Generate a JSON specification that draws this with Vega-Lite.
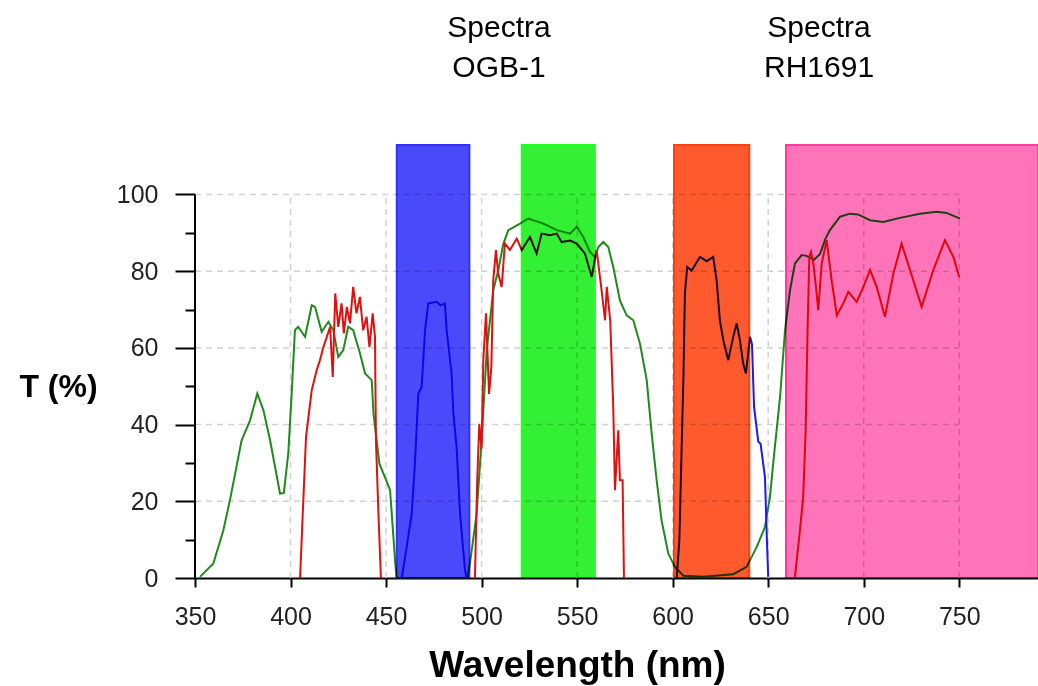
{
  "$schema": "https://vega.github.io/schema/vega-lite/v6.json",
  "width": 843,
  "height": 433,
  "autosize": {"type": "none"},
  "padding": {"left": 195, "top": 145, "right": 0, "bottom": 108},
  "background": "white",
  "config": {"view": {"stroke": null}},
  "datasets": {
    "spectra": [
      {"s":"green","part":"g","wl":352.6,"t":0.3},{"s":"green","part":"g","wl":359.6,"t":3.8},{"s":"green","part":"g","wl":364.8,"t":12.4},{"s":"green","part":"g","wl":368.3,"t":20.3},{"s":"green","part":"g","wl":374.4,"t":35.9},{"s":"green","part":"g","wl":378.8,"t":41.1},{"s":"green","part":"g","wl":382.6,"t":48.1},{"s":"green","part":"g","wl":385.8,"t":43.7},{"s":"green","part":"g","wl":389.3,"t":35.9},{"s":"green","part":"g","wl":394.5,"t":22.0},{"s":"green","part":"g","wl":396.5,"t":22.2},{"s":"green","part":"g","wl":398.8,"t":32.4},{"s":"green","part":"g","wl":400.6,"t":48.1},{"s":"green","part":"g","wl":402.3,"t":64.6},{"s":"green","part":"g","wl":404.0,"t":65.5},{"s":"green","part":"g","wl":407.6,"t":62.9},{"s":"green","part":"g","wl":411.1,"t":71.1},{"s":"green","part":"g","wl":412.8,"t":70.7},{"s":"green","part":"g","wl":416.3,"t":64.2},{"s":"green","part":"g","wl":419.8,"t":66.8},{"s":"green","part":"g","wl":422.4,"t":64.6},{"s":"green","part":"g","wl":425.0,"t":57.6},{"s":"green","part":"g","wl":427.6,"t":59.4},{"s":"green","part":"g","wl":430.2,"t":65.5},{"s":"green","part":"g","wl":432.8,"t":64.6},{"s":"green","part":"g","wl":436.4,"t":58.5},{"s":"green","part":"g","wl":439.0,"t":53.3},{"s":"green","part":"g","wl":442.5,"t":51.6},{"s":"green","part":"g","wl":443.4,"t":42.9},{"s":"green","part":"g","wl":446.5,"t":29.8},{"s":"green","part":"g","wl":449.4,"t":26.3},{"s":"green","part":"g","wl":452.1,"t":22.9},{"s":"green","part":"g","wl":454.7,"t":4.6},{"s":"green","part":"g","wl":455.5,"t":0},{"s":"green","part":"g","wl":492.5,"t":0},{"s":"green","part":"g","wl":493.9,"t":3.8},{"s":"green","part":"g","wl":497.4,"t":16.8},{"s":"green","part":"g","wl":500.0,"t":35.9},{"s":"green","part":"g","wl":502.7,"t":59.4},{"s":"green","part":"g","wl":506.1,"t":75.0},{"s":"green","part":"g","wl":508.7,"t":80.2},{"s":"green","part":"g","wl":511.4,"t":87.2},{"s":"green","part":"g","wl":514.0,"t":90.7},{"s":"green","part":"g","wl":520.1,"t":92.4},{"s":"green","part":"g","wl":524.4,"t":93.7},{"s":"green","part":"g","wl":532.3,"t":92.4},{"s":"green","part":"g","wl":539.3,"t":90.7},{"s":"green","part":"g","wl":546.3,"t":89.8},{"s":"green","part":"g","wl":549.8,"t":91.6},{"s":"green","part":"g","wl":553.2,"t":88.9},{"s":"green","part":"g","wl":556.7,"t":85.0},{"s":"green","part":"g","wl":559.3,"t":83.7},{"s":"green","part":"g","wl":561.1,"t":86.3},{"s":"green","part":"g","wl":563.7,"t":87.6},{"s":"green","part":"g","wl":566.3,"t":86.3},{"s":"green","part":"g","wl":568.9,"t":81.1},{"s":"green","part":"g","wl":572.4,"t":72.4},{"s":"green","part":"g","wl":575.9,"t":68.5},{"s":"green","part":"g","wl":579.4,"t":67.2},{"s":"green","part":"g","wl":582.9,"t":61.1},{"s":"green","part":"g","wl":586.4,"t":51.6},{"s":"green","part":"g","wl":589.0,"t":37.7},{"s":"green","part":"g","wl":591.6,"t":25.5},{"s":"green","part":"g","wl":594.2,"t":15.0},{"s":"green","part":"g","wl":597.7,"t":6.4},{"s":"green","part":"g","wl":601.2,"t":2.9},{"s":"green","part":"g","wl":605.6,"t":0.6},{"s":"green","part":"g","wl":616.0,"t":0.3},{"s":"green","part":"g","wl":631.7,"t":1.0},{"s":"green","part":"g","wl":638.7,"t":2.9},{"s":"green","part":"g","wl":644.0,"t":8.1},{"s":"green","part":"g","wl":648.3,"t":13.3},{"s":"green","part":"g","wl":650.9,"t":21.1},{"s":"green","part":"g","wl":652.6,"t":29.8},{"s":"green","part":"g","wl":656.2,"t":47.2},{"s":"green","part":"g","wl":658.8,"t":64.6},{"s":"green","part":"g","wl":661.4,"t":75.0},{"s":"green","part":"g","wl":664.0,"t":82.0},{"s":"green","part":"g","wl":667.5,"t":84.2},{"s":"green","part":"g","wl":670.0,"t":84.0},{"s":"green","part":"g","wl":674.0,"t":83.0},{"s":"green","part":"g","wl":677.1,"t":84.5},{"s":"green","part":"g","wl":680.0,"t":88.5},{"s":"green","part":"g","wl":682.3,"t":90.7},{"s":"green","part":"g","wl":687.6,"t":94.2},{"s":"green","part":"g","wl":692.8,"t":95.0},{"s":"green","part":"g","wl":697.0,"t":94.8},{"s":"green","part":"g","wl":703.3,"t":93.3},{"s":"green","part":"g","wl":710.2,"t":92.8},{"s":"green","part":"g","wl":719.0,"t":93.9},{"s":"green","part":"g","wl":729.4,"t":95.0},{"s":"green","part":"g","wl":738.2,"t":95.5},{"s":"green","part":"g","wl":743.4,"t":95.2},{"s":"green","part":"g","wl":750.4,"t":93.7},
      {"s":"red","part":"r1","wl":405.0,"t":0},{"s":"red","part":"r1","wl":406.4,"t":16.8},{"s":"red","part":"r1","wl":408.1,"t":36.8},{"s":"red","part":"r1","wl":411.1,"t":49.0},{"s":"red","part":"r1","wl":413.7,"t":54.2},{"s":"red","part":"r1","wl":415.4,"t":56.8},{"s":"red","part":"r1","wl":417.2,"t":60.2},{"s":"red","part":"r1","wl":419.0,"t":62.9},{"s":"red","part":"r1","wl":420.7,"t":65.5},{"s":"red","part":"r1","wl":422.1,"t":52.4},{"s":"red","part":"r1","wl":423.4,"t":74.2},{"s":"red","part":"r1","wl":425.0,"t":65.5},{"s":"red","part":"r1","wl":426.7,"t":71.6},{"s":"red","part":"r1","wl":427.9,"t":63.8},{"s":"red","part":"r1","wl":429.5,"t":70.7},{"s":"red","part":"r1","wl":431.1,"t":66.4},{"s":"red","part":"r1","wl":432.8,"t":75.9},{"s":"red","part":"r1","wl":434.5,"t":69.0},{"s":"red","part":"r1","wl":436.3,"t":73.3},{"s":"red","part":"r1","wl":438.0,"t":64.6},{"s":"red","part":"r1","wl":439.8,"t":68.1},{"s":"red","part":"r1","wl":441.3,"t":60.2},{"s":"red","part":"r1","wl":443.0,"t":69.0},{"s":"red","part":"r1","wl":444.2,"t":62.9},{"s":"red","part":"r1","wl":444.7,"t":35.9},{"s":"red","part":"r1","wl":446.0,"t":16.8},{"s":"red","part":"r1","wl":447.3,"t":0},
      {"s":"red","part":"r2","wl":496.5,"t":0},{"s":"red","part":"r2","wl":497.7,"t":25.5},{"s":"red","part":"r2","wl":498.8,"t":40.2},{"s":"red","part":"r2","wl":500.0,"t":33.7},{"s":"red","part":"r2","wl":500.9,"t":56.8},{"s":"red","part":"r2","wl":502.3,"t":69.0},{"s":"red","part":"r2","wl":503.9,"t":48.0},{"s":"red","part":"r2","wl":505.1,"t":55.0},{"s":"red","part":"r2","wl":506.1,"t":77.6},{"s":"red","part":"r2","wl":507.5,"t":85.5},{"s":"red","part":"r2","wl":508.7,"t":79.3},{"s":"red","part":"r2","wl":510.5,"t":75.9},{"s":"red","part":"r2","wl":512.2,"t":87.2},{"s":"red","part":"r2","wl":514.8,"t":85.5},{"s":"red","part":"r2","wl":518.4,"t":88.5},{"s":"red","part":"r2","wl":521.0,"t":85.5},{"s":"red","part":"r2","wl":525.3,"t":88.9},{"s":"red","part":"r2","wl":528.8,"t":84.6},{"s":"red","part":"r2","wl":531.4,"t":89.8},{"s":"red","part":"r2","wl":535.8,"t":89.4},{"s":"red","part":"r2","wl":539.3,"t":89.8},{"s":"red","part":"r2","wl":541.9,"t":87.6},{"s":"red","part":"r2","wl":546.3,"t":88.0},{"s":"red","part":"r2","wl":549.8,"t":87.2},{"s":"red","part":"r2","wl":554.1,"t":84.6},{"s":"red","part":"r2","wl":557.6,"t":78.5},{"s":"red","part":"r2","wl":560.2,"t":85.5},{"s":"red","part":"r2","wl":562.8,"t":75.0},{"s":"red","part":"r2","wl":564.6,"t":67.2},{"s":"red","part":"r2","wl":565.5,"t":75.9},{"s":"red","part":"r2","wl":567.3,"t":67.2},{"s":"red","part":"r2","wl":568.9,"t":44.6},{"s":"red","part":"r2","wl":569.8,"t":22.9},{"s":"red","part":"r2","wl":571.5,"t":38.5},{"s":"red","part":"r2","wl":572.4,"t":25.5},{"s":"red","part":"r2","wl":573.8,"t":25.5},{"s":"red","part":"r2","wl":574.5,"t":0},
      {"s":"red","part":"r3","wl":664.0,"t":0.3},{"s":"red","part":"r3","wl":666.6,"t":12.4},{"s":"red","part":"r3","wl":668.3,"t":21.1},{"s":"red","part":"r3","wl":669.6,"t":38.5},{"s":"red","part":"r3","wl":670.6,"t":64.6},{"s":"red","part":"r3","wl":671.5,"t":83.7},{"s":"red","part":"r3","wl":672.4,"t":85.0},{"s":"red","part":"r3","wl":673.6,"t":82.0},{"s":"red","part":"r3","wl":675.0,"t":75.9},{"s":"red","part":"r3","wl":676.2,"t":69.8},{"s":"red","part":"r3","wl":678.0,"t":82.0},{"s":"red","part":"r3","wl":680.6,"t":88.1},{"s":"red","part":"r3","wl":683.2,"t":77.6},{"s":"red","part":"r3","wl":685.9,"t":68.5},{"s":"red","part":"r3","wl":689.3,"t":71.6},{"s":"red","part":"r3","wl":691.9,"t":74.6},{"s":"red","part":"r3","wl":696.3,"t":72.0},{"s":"red","part":"r3","wl":699.8,"t":75.9},{"s":"red","part":"r3","wl":703.3,"t":80.3},{"s":"red","part":"r3","wl":706.8,"t":75.9},{"s":"red","part":"r3","wl":711.1,"t":68.1},{"s":"red","part":"r3","wl":715.5,"t":79.4},{"s":"red","part":"r3","wl":719.8,"t":87.2},{"s":"red","part":"r3","wl":724.2,"t":80.3},{"s":"red","part":"r3","wl":730.3,"t":70.7},{"s":"red","part":"r3","wl":736.4,"t":80.3},{"s":"red","part":"r3","wl":742.5,"t":88.1},{"s":"red","part":"r3","wl":746.9,"t":83.7},{"s":"red","part":"r3","wl":750.0,"t":78.5},
      {"s":"blue","part":"b1","wl":458.2,"t":0},{"s":"blue","part":"b1","wl":460.8,"t":8.1},{"s":"blue","part":"b1","wl":463.4,"t":16.8},{"s":"blue","part":"b1","wl":465.1,"t":29.8},{"s":"blue","part":"b1","wl":466.9,"t":48.1},{"s":"blue","part":"b1","wl":468.6,"t":49.8},{"s":"blue","part":"b1","wl":470.4,"t":64.6},{"s":"blue","part":"b1","wl":472.1,"t":71.6},{"s":"blue","part":"b1","wl":476.5,"t":72.0},{"s":"blue","part":"b1","wl":478.5,"t":71.1},{"s":"blue","part":"b1","wl":480.8,"t":71.6},{"s":"blue","part":"b1","wl":481.7,"t":64.6},{"s":"blue","part":"b1","wl":484.3,"t":53.3},{"s":"blue","part":"b1","wl":485.2,"t":42.9},{"s":"blue","part":"b1","wl":486.9,"t":34.2},{"s":"blue","part":"b1","wl":488.7,"t":16.8},{"s":"blue","part":"b1","wl":491.3,"t":2.0},{"s":"blue","part":"b1","wl":492.2,"t":0},
      {"s":"blue","part":"b2","wl":602.1,"t":0},{"s":"blue","part":"b2","wl":603.5,"t":9.8},{"s":"blue","part":"b2","wl":604.7,"t":34.2},{"s":"blue","part":"b2","wl":605.6,"t":51.6},{"s":"blue","part":"b2","wl":606.4,"t":74.2},{"s":"blue","part":"b2","wl":607.6,"t":81.1},{"s":"blue","part":"b2","wl":609.9,"t":80.2},{"s":"blue","part":"b2","wl":614.3,"t":83.7},{"s":"blue","part":"b2","wl":617.8,"t":82.6},{"s":"blue","part":"b2","wl":621.2,"t":83.7},{"s":"blue","part":"b2","wl":623.0,"t":77.6},{"s":"blue","part":"b2","wl":624.7,"t":67.2},{"s":"blue","part":"b2","wl":626.5,"t":62.0},{"s":"blue","part":"b2","wl":629.1,"t":56.8},{"s":"blue","part":"b2","wl":631.7,"t":62.9},{"s":"blue","part":"b2","wl":633.5,"t":66.4},{"s":"blue","part":"b2","wl":635.2,"t":62.0},{"s":"blue","part":"b2","wl":636.9,"t":55.9},{"s":"blue","part":"b2","wl":638.3,"t":53.3},{"s":"blue","part":"b2","wl":640.5,"t":62.9},{"s":"blue","part":"b2","wl":641.5,"t":61.0},{"s":"blue","part":"b2","wl":642.6,"t":44.6},{"s":"blue","part":"b2","wl":644.8,"t":35.5},{"s":"blue","part":"b2","wl":646.0,"t":35.0},{"s":"blue","part":"b2","wl":648.3,"t":26.3},{"s":"blue","part":"b2","wl":649.2,"t":11.6},{"s":"blue","part":"b2","wl":650.0,"t":0.3}
    ],
    "bands": [
      {"band":"blue","from":455.6,"to":493.6},
      {"band":"green","from":521.0,"to":559.3},
      {"band":"orange","from":600.7,"to":640.1},
      {"band":"pink","from":659.3,"to":791.2}
    ],
    "hgrid": [{"t":20},{"t":40},{"t":60},{"t":80},{"t":100}],
    "vgrid": [{"wl":400},{"wl":450},{"wl":500},{"wl":550},{"wl":600},{"wl":650},{"wl":700},{"wl":750}],
    "labels": [
      {"label":"Spectra\nOGB-1","wl":509.1,"t":141.1},
      {"label":"Spectra\nRH1691","wl":676.6,"t":141.1}
    ]
  },
  "layer": [
    {
      "data": {"name": "hgrid"},
      "mark": {"type": "rule", "color": "#d2d2d2", "strokeWidth": 1.5, "strokeDash": [6, 5]},
      "encoding": {
        "y": {"field": "t", "type": "quantitative", "scale": {"domain": [0, 112.9], "nice": false}},
        "x": {"datum": 350, "type": "quantitative", "scale": {"domain": [350, 791.2], "nice": false}},
        "x2": {"datum": 750}
      }
    },
    {
      "data": {"name": "vgrid"},
      "mark": {"type": "rule", "color": "#d2d2d2", "strokeWidth": 1.5, "strokeDash": [6, 5]},
      "encoding": {
        "x": {"field": "wl", "type": "quantitative", "scale": {"domain": [350, 791.2], "nice": false}},
        "y": {"datum": 0, "type": "quantitative", "scale": {"domain": [0, 112.9], "nice": false}},
        "y2": {"datum": 100}
      }
    },
    {
      "data": {"name": "spectra"},
      "mark": {"type": "line", "strokeWidth": 2},
      "encoding": {
        "x": {
          "field": "wl", "type": "quantitative",
          "scale": {"domain": [350, 791.2], "nice": false},
          "axis": {
            "values": [350, 400, 450, 500, 550, 600, 650, 700, 750],
            "grid": false, "domain": true, "domainColor": "#000000", "domainWidth": 2,
            "tickColor": "#000000", "tickWidth": 2, "tickSize": 9,
            "labelFont": "Liberation Sans", "labelFontSize": 25, "labelColor": "#222222", "labelPadding": 17,
            "labelFlush": false, "labelOverlap": false,
            "title": "Wavelength (nm)", "titleFont": "Liberation Sans", "titleFontSize": 37, "titleFontWeight": "bold",
            "titleColor": "#000000", "titleX": 382, "titlePadding": 18
          }
        },
        "y": {
          "field": "t", "type": "quantitative",
          "scale": {"domain": [0, 112.9], "nice": false},
          "axis": {
            "values": [0, 5, 10, 15, 20, 25, 30, 35, 40, 45, 50, 55, 60, 65, 70, 75, 80, 85, 90, 95, 100],
            "grid": false, "domain": false,
            "tickColor": "#000000", "tickWidth": 2,
            "tickSize": {"condition": {"test": "datum.value % 20 === 0", "value": 20}, "value": 10},
            "labelExpr": "datum.value % 20 === 0 ? datum.label : ''",
            "labelFont": "Liberation Sans", "labelFontSize": 25, "labelColor": "#222222", "labelPadding": 17,
            "labelFlush": false, "labelOverlap": false,
            "title": "T (%)", "titleAngle": 0, "titleFont": "Liberation Sans", "titleFontSize": 32, "titleFontWeight": "bold",
            "titleColor": "#000000", "titleX": -137, "titleY": 241, "titleAlign": "center", "titleBaseline": "middle"
          }
        },
        "color": {
          "field": "s", "type": "nominal",
          "scale": {"domain": ["green", "red", "blue"], "range": ["#1e8a1e", "#dd1111", "#1a1aee"]},
          "legend": null
        },
        "detail": {"field": "part"}
      }
    },
    {
      "data": {"name": "bands"},
      "mark": {"type": "rect", "blend": "multiply", "strokeWidth": 2},
      "encoding": {
        "x": {"field": "from", "type": "quantitative", "scale": {"domain": [350, 791.2], "nice": false}},
        "x2": {"field": "to"},
        "y": {"datum": 0, "type": "quantitative", "scale": {"domain": [0, 112.9], "nice": false}},
        "y2": {"datum": 112.9},
        "fill": {
          "field": "band", "type": "nominal",
          "scale": {"domain": ["blue", "green", "orange", "pink"], "range": ["#4a4afa", "#34f034", "#ff5a2e", "#ff74b8"]},
          "legend": null
        },
        "stroke": {
          "field": "band", "type": "nominal",
          "scale": {"domain": ["blue", "green", "orange", "pink"], "range": ["#3030ff", "#22ff22", "#ff4010", "#ff3c9c"]},
          "legend": null
        }
      }
    },
    {
      "data": {"values": [{"wl": 350}]},
      "mark": {"type": "rule", "color": "#000000", "strokeWidth": 2},
      "encoding": {
        "x": {"field": "wl", "type": "quantitative", "scale": {"domain": [350, 791.2], "nice": false}},
        "y": {"datum": 0, "type": "quantitative", "scale": {"domain": [0, 112.9], "nice": false}},
        "y2": {"datum": 100}
      }
    },
    {
      "data": {"name": "labels"},
      "mark": {"type": "text", "font": "Liberation Sans", "fontSize": 30, "color": "#000000", "align": "center", "baseline": "alphabetic", "lineBreak": "\n", "lineHeight": 40},
      "encoding": {
        "x": {"field": "wl", "type": "quantitative", "scale": {"domain": [350, 791.2], "nice": false}},
        "y": {"field": "t", "type": "quantitative", "scale": {"domain": [0, 112.9], "nice": false}},
        "text": {"field": "label"}
      }
    }
  ]
}
